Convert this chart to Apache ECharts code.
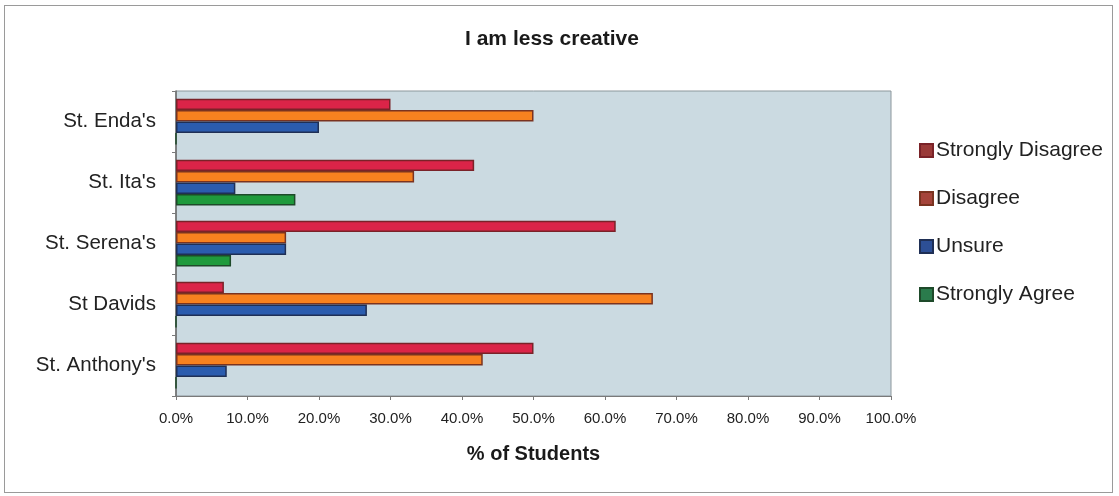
<!DOCTYPE html>
<html>
<head>
<meta charset="utf-8">
<script src="https://cdn.jsdelivr.net/npm/echarts@6/dist/echarts.min.js"></script>
<style>
  html, body { margin: 0; padding: 0; background: #ffffff; }
  #frame { position: absolute; left: 4px; top: 5px; width: 1109px; height: 488px; border: 1px solid #9a9a9a; box-sizing: border-box; }
  #chart { position: absolute; left: 0; top: 0; width: 1119px; height: 496px; }
</style>
</head>
<body>
<div id="frame"></div>
<div id="chart"></div>
<script>
// Schools, listed bottom to top along the category axis
const schools = ["St. Anthony's", "St Davids", "St. Serena's", "St. Ita's", "St. Enda's"];

// Percentage of students giving each response, per school (same order as schools)
const stronglyDisagree = [50.0, 6.7, 61.5, 41.7, 30.0];
const disagree         = [42.9, 66.7, 15.4, 33.3, 50.0];
const unsure           = [7.1, 26.7, 15.4, 8.3, 20.0];
const stronglyAgree    = [0, 0, 7.7, 16.7, 0];

const xTicks = [0, 10, 20, 30, 40, 50, 60, 70, 80, 90, 100];

const font = "'Liberation Sans', Arial, sans-serif";

function barSeries(name, data, fill, edge) {
  return {
    name: name,
    type: 'bar',
    data: data,
    barGap: '0%',
    barCategoryGap: '25%',
    itemStyle: { color: fill, borderColor: edge, borderWidth: 1.5 }
  };
}

const chart = echarts.init(document.getElementById('chart'), null, { renderer: 'canvas' });
chart.setOption({
  animation: false,
  backgroundColor: 'transparent',
  title: {
    text: 'I am less creative',
    left: 547,
    textAlign: 'center',
    top: 24,
    textStyle: { fontFamily: font, fontSize: 21, fontWeight: 'bold', color: '#1a1a1a' }
  },
  legend: {
    orient: 'vertical',
    left: 914,
    top: 135,
    itemGap: 27,
    itemWidth: 13,
    itemHeight: 13,
    icon: 'rect',
    data: [
      { name: 'Strongly Disagree', itemStyle: { color: '#9a3a38' } },
      { name: 'Disagree', itemStyle: { color: '#a5443a' } },
      { name: 'Unsure', itemStyle: { color: '#2d4f95' } },
      { name: 'Strongly Agree', itemStyle: { color: '#2a7b4c' } }
    ],
    textStyle: { fontFamily: font, fontSize: 21, color: '#222222', padding: [0, 0, 0, -2] }
  },
  grid: {
    left: 176, top: 91, width: 715, height: 305,
    show: true,
    backgroundColor: '#cbdae1',
    borderColor: '#8c979c',
    borderWidth: 1
  },
  xAxis: {
    type: 'value',
    min: xTicks[0],
    max: xTicks[xTicks.length - 1],
    interval: 10,
    name: '% of Students',
    nameLocation: 'middle',
    nameGap: 48,
    nameTextStyle: { fontFamily: font, fontSize: 20, fontWeight: 'bold', color: '#1a1a1a' },
    axisLine: { show: true, lineStyle: { color: '#7a7a7a' } },
    axisTick: { show: true, length: 4, lineStyle: { color: '#7a7a7a' } },
    splitLine: { show: false },
    axisLabel: {
      fontFamily: font, fontSize: 15, color: '#222222', margin: 15,
      formatter: v => v.toFixed(1) + '%'
    }
  },
  yAxis: {
    type: 'category',
    data: schools,
    axisLine: { show: true, lineStyle: { color: '#6a6a6a', width: 1.5 } },
    axisTick: { show: true, length: 4, lineStyle: { color: '#7a7a7a' } },
    axisLabel: { fontFamily: font, fontSize: 20.5, color: '#222222', margin: 20 }
  },
  series: [
    barSeries('Strongly Disagree', stronglyDisagree, '#db2448', '#7a2228'),
    barSeries('Disagree', disagree, '#f7811f', '#7a3320'),
    barSeries('Unsure', unsure, '#2b5cae', '#1f2f55'),
    barSeries('Strongly Agree', stronglyAgree, '#1f9a3c', '#1e4a2a')
  ]
});
</script>
</body>
</html>
